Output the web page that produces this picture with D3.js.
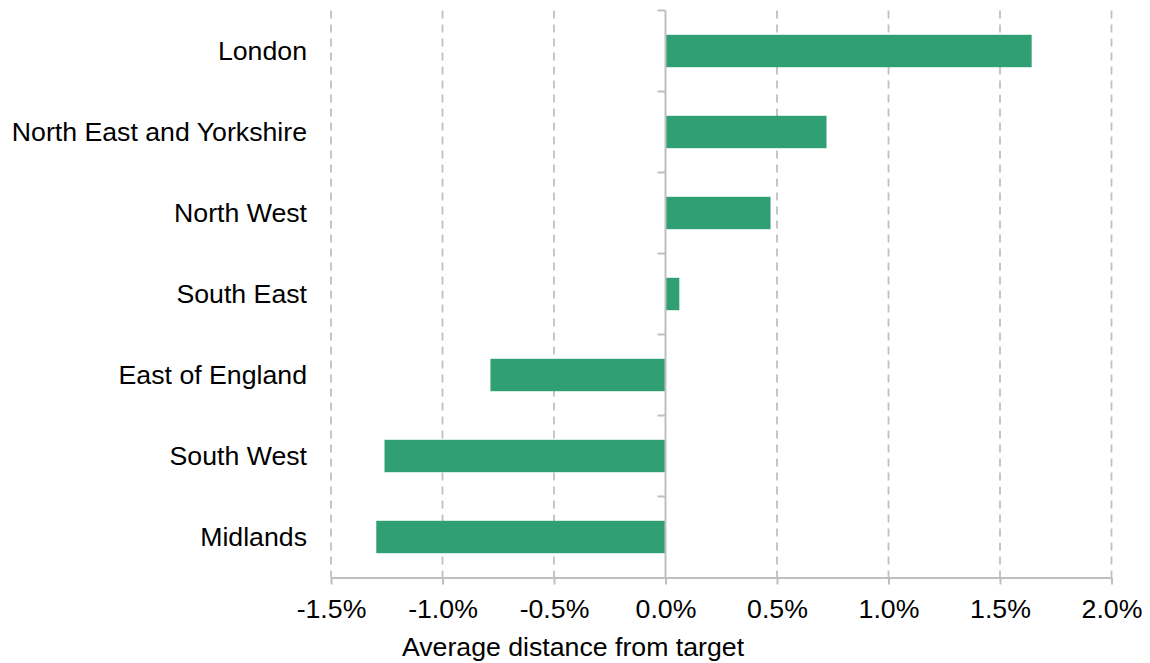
<!DOCTYPE html>
<html>
<head>
<meta charset="utf-8">
<script src="https://cdn.jsdelivr.net/npm/d3@7"></script>
<style>
  html, body { margin: 0; padding: 0; background: #fff; }
  svg { display: block; }
  text { font-family: "Liberation Sans", Arial, sans-serif; fill: #000; }
</style>
</head>
<body>
<svg id="chart" width="1150" height="663"></svg>
<script>
const categories = ["London", "North East and Yorkshire", "North West", "South East", "East of England", "South West", "Midlands"];
const values = [0.01642, 0.00722, 0.00471, 0.00062, -0.00785, -0.01260, -0.01297];
const tickValues = [-0.015, -0.010, -0.005, 0, 0.005, 0.010, 0.015, 0.020];
const xTitle = "Average distance from target";

const svg = d3.select("#chart");
const fontSize = 26.7;

const x = d3.scaleLinear().domain([-0.015, 0.02]).range([331, 1111.5]);
const y = d3.scaleBand().domain(categories).range([10.5, 577.5]).paddingInner(0.6).paddingOuter(0.3);

const plotTop = 10.5, plotBottom = 577.5;

// dashed gridlines
svg.append("g").selectAll("line")
  .data(tickValues.filter(v => v !== 0))
  .join("line")
  .attr("x1", d => x(d)).attr("x2", d => x(d))
  .attr("y1", plotTop).attr("y2", plotBottom)
  .attr("stroke", "#c0c0c0").attr("stroke-width", 1.8)
  .attr("stroke-dasharray", "8,6");

// bars
svg.append("g").selectAll("rect")
  .data(categories.map((c, i) => ({c, v: values[i]})))
  .join("rect")
  .attr("x", d => x(Math.min(0, d.v)))
  .attr("width", d => Math.abs(x(d.v) - x(0)))
  .attr("y", d => y(d.c))
  .attr("height", y.bandwidth())
  .attr("fill", "#30a074");

// x axis
const fmt = d => d3.format(".1f")(d * 100).replace("\u2212", "-") + "%";
const xAxis = d3.axisBottom(x).tickValues(tickValues)
  .tickFormat(fmt).tickSize(7).tickSizeOuter(0);
const gx = svg.append("g").attr("transform", `translate(0,${plotBottom})`).call(xAxis);
gx.select(".domain").attr("stroke", "#bfbfbf").attr("stroke-width", 2);
gx.selectAll(".tick line").attr("stroke", "#bfbfbf").attr("stroke-width", 2);
gx.selectAll(".tick text")
  .attr("font-family", "Liberation Sans, Arial, sans-serif")
  .attr("font-size", fontSize).attr("fill", "#000")
  .attr("y", 0).attr("dy", 0)
  .attr("transform", "translate(0,40)")
  .text(fmt);

// zero axis (vertical) with ticks at band boundaries
const boundaries = d3.range(categories.length).map(i => y.range()[0] + i * y.step());
const gz = svg.append("g");
gz.append("line")
  .attr("x1", x(0)).attr("x2", x(0))
  .attr("y1", plotTop).attr("y2", plotBottom)
  .attr("stroke", "#bfbfbf").attr("stroke-width", 2);
gz.selectAll("line.t").data(boundaries).join("line").attr("class", "t")
  .attr("x1", x(0) - 8).attr("x2", x(0))
  .attr("y1", d => d).attr("y2", d => d)
  .attr("stroke", "#bfbfbf").attr("stroke-width", 2);

// category labels
svg.append("g").selectAll("text")
  .data(categories)
  .join("text")
  .attr("x", 307)
  .attr("y", d => y(d) + y.bandwidth() / 2)
  .attr("dy", "0.35em")
  .attr("text-anchor", "end")
  .attr("font-size", fontSize)
  .text(d => d);

// axis title
svg.append("text")
  .attr("x", (402 + 744) / 2)
  .attr("y", 656)
  .attr("text-anchor", "middle")
  .attr("font-size", fontSize)
  .text(xTitle);
</script>
</body>
</html>
